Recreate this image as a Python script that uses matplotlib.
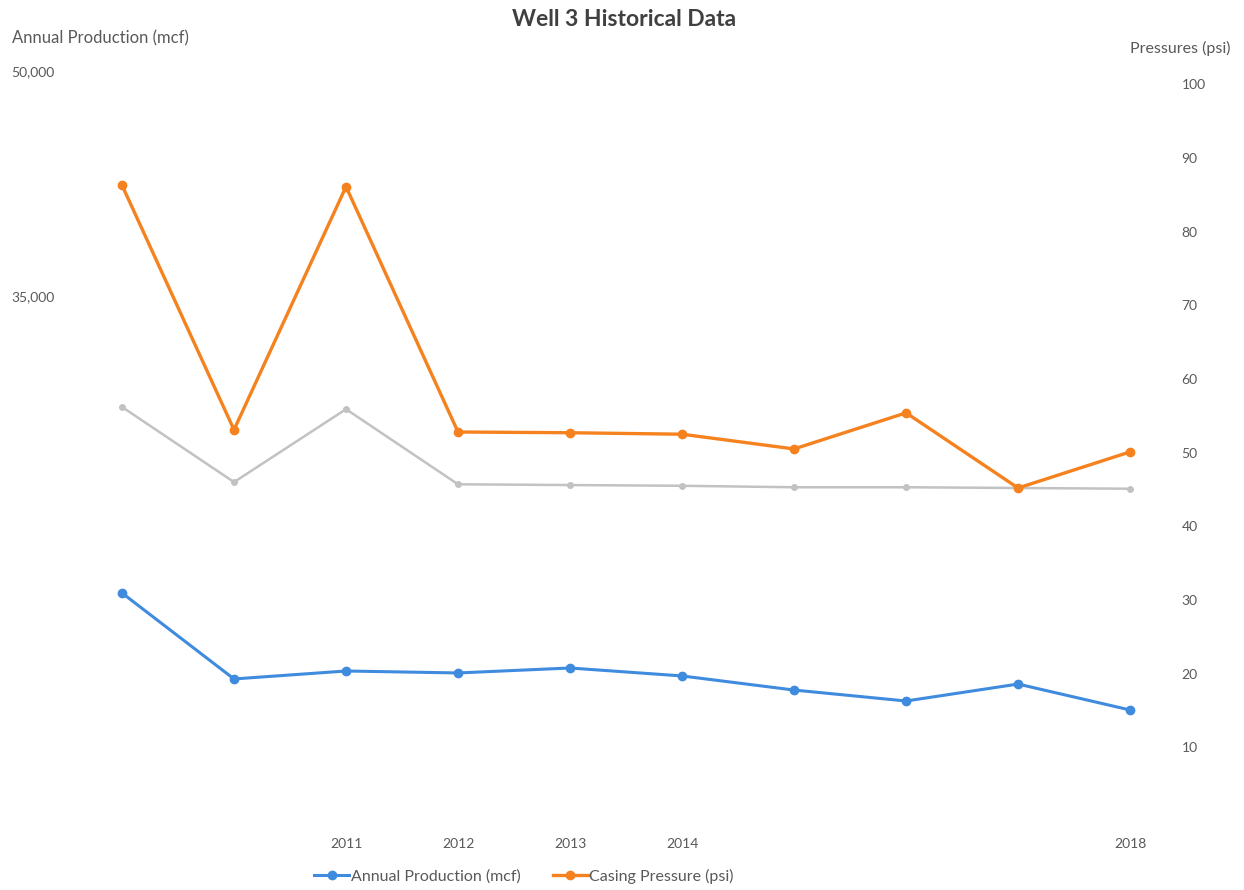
import matplotlib
matplotlib.use("Agg")
import matplotlib.pyplot as plt
from matplotlib.lines import Line2D
from matplotlib.ticker import FuncFormatter

plt.rcParams["font.family"] = ["Lato", "DejaVu Sans"]

# Well 3 data, 2009-2018
years = [2009, 2010, 2011, 2012, 2013, 2014, 2015, 2016, 2017, 2018]
year_labels = ["", "", "2011", "2012", "2013", "2014", "", "", "", "2018"]
annual_production = [15200, 9470, 10000, 9870, 10200, 9670, 8730, 8000, 9130, 7400]
casing_pressure = [86.3, 53.1, 86.1, 52.8, 52.7, 52.5, 50.5, 55.4, 45.2, 50.1]
tubing_pressure = [56.2, 46.0, 55.9, 45.7, 45.6, 45.5, 45.3, 45.3, 45.2, 45.1]

prod_ticks = [35000, 50000]
pressure_ticks = [10, 20, 30, 40, 50, 60, 70, 80, 90, 100]

BLUE = "#3F8BDD"
ORANGE = "#F5821F"
GRAY = "#C2C2C2"
TEXT = "#595959"

W, H = 1244, 890
fig = plt.figure(figsize=(W / 100, H / 100), dpi=100)

left_px, right_px, top_px, bottom_px = 66, 1176, 71, 821
ax = fig.add_axes([left_px / W, 1 - bottom_px / H,
                   (right_px - left_px) / W, (bottom_px - top_px) / H])
ax2 = ax.twinx()

ax.set_xlim(2008.5, 2018.41)
ax.set_ylim(0, 50000)
ax2.set_ylim(0, 101.8)

# pressures on the secondary axis
ax2.plot(years, tubing_pressure, color=GRAY, lw=1.8, marker="o", ms=4,
         markerfacecolor=GRAY, markeredgecolor=GRAY, zorder=2)
ax2.plot(years, casing_pressure, color=ORANGE, lw=2.4, marker="o", ms=6,
         markerfacecolor=ORANGE, markeredgecolor=ORANGE, zorder=3)

# production on the primary axis, drawn on top
ax.set_zorder(ax2.get_zorder() + 1)
ax.patch.set_visible(False)
ax.plot(years, annual_production, color=BLUE, lw=2.2, marker="o", ms=6,
        markerfacecolor=BLUE, markeredgecolor=BLUE, zorder=3)

for a in (ax, ax2):
    for s in a.spines.values():
        s.set_visible(False)

ax.set_xticks(years)
ax.set_xticklabels(year_labels)
ax.tick_params(axis="x", length=0, pad=12, labelsize=10, labelcolor=TEXT)

ax.set_yticks(prod_ticks)
ax.yaxis.set_major_formatter(FuncFormatter(lambda v, p: f"{int(v):,}"))
ax.tick_params(axis="y", length=0, pad=8, labelsize=10, labelcolor=TEXT)

ax2.set_yticks(pressure_ticks)
ax2.tick_params(axis="y", length=0, pad=4, labelsize=10, labelcolor=TEXT)

fig.text(624 / W, 1 - 20 / H, "Well 3 Historical Data", ha="center", va="center",
         fontsize=16.5, fontweight="bold", color="#404040")
fig.text(12 / W, 1 - 38 / H, "Annual Production (mcf)", ha="left", va="center",
         fontsize=12, color=TEXT)
fig.text(1230 / W, 1 - 48 / H, "Pressures (psi)", ha="right", va="center",
         fontsize=11.5, color=TEXT)

handles = [
    Line2D([], [], color=BLUE, lw=2.2, marker="o", ms=6),
    Line2D([], [], color=ORANGE, lw=2.4, marker="o", ms=6),
]
fig.legend(handles, ["Annual Production (mcf)", "Casing Pressure (psi)"],
           loc="center", bbox_to_anchor=(524 / W, 1 - 876 / H), ncol=2,
           frameon=False, fontsize=11.5, labelcolor=TEXT, handlelength=2.2,
           handletextpad=0.1, columnspacing=2.0)

fig.savefig("out.png", dpi=100, facecolor="white")
